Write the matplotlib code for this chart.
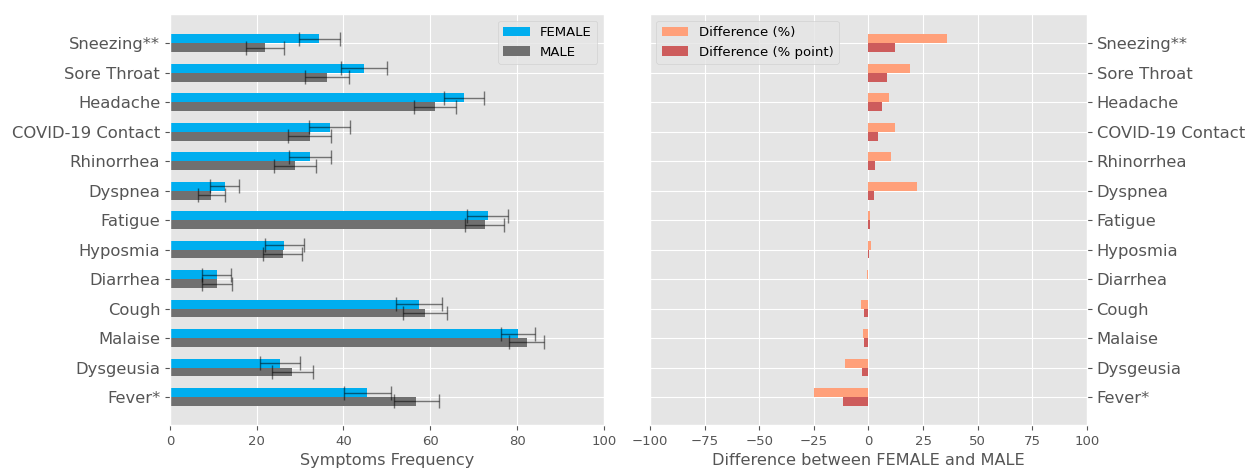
import matplotlib
matplotlib.use("Agg")
import matplotlib.pyplot as plt
import numpy as np

plt.style.use("ggplot")
plt.rcParams["font.size"] = 9.5
plt.rcParams["axes.labelsize"] = 11.6

symptoms = ["Sneezing**", "Sore Throat", "Headache", "COVID-19 Contact", "Rhinorrhea",
            "Dyspnea", "Fatigue", "Hyposmia", "Diarrhea", "Cough", "Malaise",
            "Dysgeusia", "Fever*"]
female = [34.4, 44.8, 67.8, 36.8, 32.2, 12.6, 73.2, 26.3, 10.8, 57.3, 80.3, 25.4, 45.5]
female_err = [4.7, 5.3, 4.65, 4.8, 4.85, 3.35, 4.8, 4.5, 3.3, 5.3, 3.95, 4.55, 5.45]
male = [21.9, 36.2, 61.1, 32.2, 28.8, 9.5, 72.5, 26.0, 10.8, 58.8, 82.2, 28.2, 56.8]
male_err = [4.35, 5.0, 4.8, 5.0, 4.75, 3.1, 4.5, 4.5, 3.4, 5.0, 4.05, 4.75, 5.2]
diff_pct = [35.8, 19.1, 9.3, 12.4, 10.4, 22.2, 0.9, 1.2, -0.6, -3.2, -2.6, -10.5, -24.8]
diff_pp = [12.4, 8.7, 6.1, 4.4, 3.1, 2.4, 0.6, 0.3, -0.1, -1.8, -1.8, -3.1, -11.7]

fig = plt.figure(figsize=(12.45, 4.72), dpi=100)
ax1 = fig.add_axes([0.1365, 0.0996, 0.3485, 0.8704])
ax2 = fig.add_axes([0.522, 0.0996, 0.351, 0.8704])

y = np.arange(len(symptoms))
h = 0.3
err_kw = dict(ecolor="black", alpha=0.5, capsize=5, elinewidth=1, capthick=1)

ax1.barh(y - h / 2, female, h, xerr=female_err, color="#00AEEF", label="FEMALE",
         error_kw=err_kw)
ax1.barh(y + h / 2, male, h, xerr=male_err, color="#707070", label="MALE",
         error_kw=err_kw)
ax1.set_yticks(y)
ax1.set_yticklabels(symptoms, fontsize=11.8)
ax1.set_ylim(12.95, -0.99)
ax1.set_xlim(0, 100)
ax1.set_xticks(np.arange(0, 101, 20))
ax1.set_xlabel("Symptoms Frequency")
ax1.legend(loc="upper right")

ax2.barh(y - h / 2, diff_pct, h, color="#FFA07A", label="Difference (%)")
ax2.barh(y + h / 2, diff_pp, h, color="#CD5C5C", label="Difference (% point)")
ax2.set_yticks(y)
ax2.set_yticklabels(symptoms, fontsize=11.8)
ax2.yaxis.tick_right()
ax2.set_ylim(12.95, -0.99)
ax2.set_xlim(-100, 100)
ax2.set_xticks(np.arange(-100, 101, 25))
ax2.set_xlabel("Difference between FEMALE and MALE")
ax2.legend(loc="upper left")

fig.savefig("out.png", dpi=100)
